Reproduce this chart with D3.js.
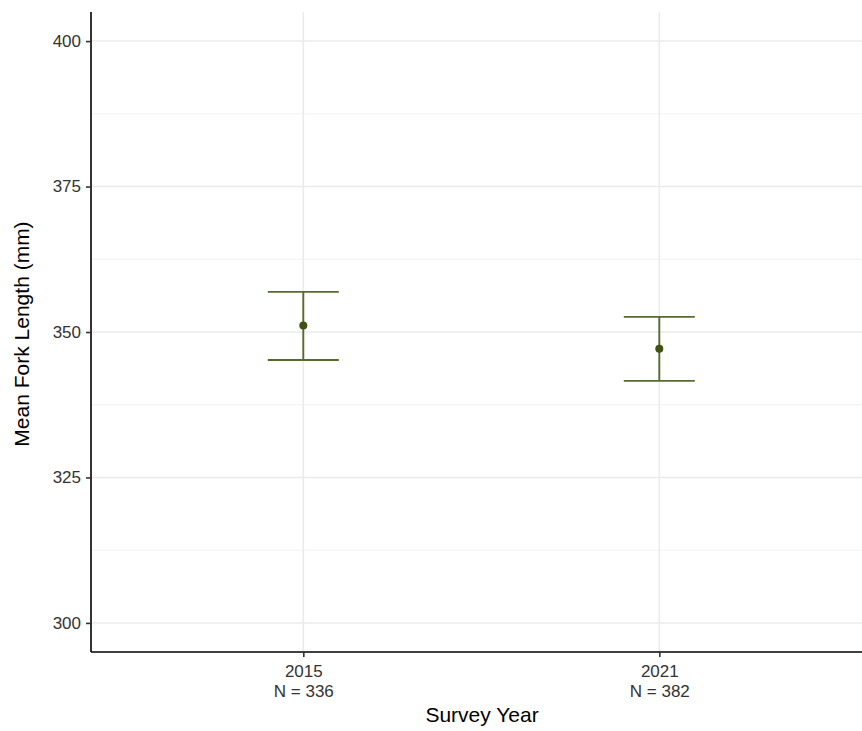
<!DOCTYPE html>
<html lang="en">
<head>
	<meta charset="UTF-8"/>
	<title>Mean Fork Length by Survey Year</title>
	<script src="https://d3js.org/d3.v7.min.js"></script>
	<style>
		body { margin: 0; background: #fff; }
		text { font-family: "Liberation Sans", Arial, sans-serif; }
	</style>
</head>
<body>
	<script>
		var w = 862;
		var h = 731;

		// data
		var years = ["2015", "2021"];
		var counts = [336, 382];
		var means = [351.1, 347.1];
		var lower = [345.2, 341.6];
		var upper = [356.9, 352.6];
		var yTicks = [300, 325, 350, 375, 400];
		var yMinor = [312.5, 337.5, 362.5, 387.5];

		var padLeft = 91, padTop = 12, padBottom = 652;
		var unit = 356;   // pixels between the two categories

		//Define scales
		var xScale = d3.scalePoint()
						.domain(years)
						.range([303.3, 303.3 + unit]);

		var yScale = d3.scaleLinear()
						.domain([295, 405])
						.range([padBottom, padTop]);

		var svg = d3.select("body")
					.append("svg")
					.attr("width", w)
					.attr("height", h);

		//grid lines
		svg.selectAll(".minor")
			.data(yMinor)
			.enter()
			.append("line")
			.attr("x1", padLeft).attr("x2", w)
			.attr("y1", function(d){ return yScale(d); })
			.attr("y2", function(d){ return yScale(d); })
			.attr("stroke", "#f2f2f2")
			.attr("stroke-width", 1);

		svg.selectAll(".major")
			.data(yTicks)
			.enter()
			.append("line")
			.attr("x1", padLeft).attr("x2", w)
			.attr("y1", function(d){ return yScale(d); })
			.attr("y2", function(d){ return yScale(d); })
			.attr("stroke", "#ebebeb")
			.attr("stroke-width", 1.5);

		svg.selectAll(".vgrid")
			.data(years)
			.enter()
			.append("line")
			.attr("x1", function(d){ return xScale(d); })
			.attr("x2", function(d){ return xScale(d); })
			.attr("y1", padTop).attr("y2", padBottom)
			.attr("stroke", "#ebebeb")
			.attr("stroke-width", 1.5);

		//error bars
		var colour = "#556b2f";
		var capHalf = 35.5;

		var bars = svg.selectAll(".err")
			.data(years)
			.enter()
			.append("g");

		bars.append("line")
			.attr("x1", function(d){ return xScale(d); })
			.attr("x2", function(d){ return xScale(d); })
			.attr("y1", function(d, i){ return yScale(upper[i]); })
			.attr("y2", function(d, i){ return yScale(lower[i]); })
			.attr("stroke", colour).attr("stroke-width", 1.9);

		bars.append("line")
			.attr("x1", function(d){ return xScale(d) - capHalf; })
			.attr("x2", function(d){ return xScale(d) + capHalf; })
			.attr("y1", function(d, i){ return yScale(upper[i]); })
			.attr("y2", function(d, i){ return yScale(upper[i]); })
			.attr("stroke", colour).attr("stroke-width", 1.9);

		bars.append("line")
			.attr("x1", function(d){ return xScale(d) - capHalf; })
			.attr("x2", function(d){ return xScale(d) + capHalf; })
			.attr("y1", function(d, i){ return yScale(lower[i]); })
			.attr("y2", function(d, i){ return yScale(lower[i]); })
			.attr("stroke", colour).attr("stroke-width", 1.9);

		bars.append("circle")
			.attr("cx", function(d){ return xScale(d); })
			.attr("cy", function(d, i){ return yScale(means[i]); })
			.attr("r", 4)
			.attr("fill", "#3f5214");

		//axes
		var xAxis = d3.axisBottom(xScale).tickSize(5).tickFormat("");
		var yAxis = d3.axisLeft(yScale).tickValues(yTicks).tickSize(5);

		var gx = svg.append("g")
			.attr("transform", "translate(0," + padBottom + ")")
			.call(xAxis);
		gx.select(".domain").attr("d", "M" + padLeft + ",0H" + w);

		gx.selectAll(".tick").each(function(d, i){
			var t = d3.select(this).append("text")
				.attr("fill", "#333")
				.attr("font-size", "17px")
				.attr("text-anchor", "middle")
				.attr("y", 25);
			t.append("tspan").attr("x", 0).text(d);
			t.append("tspan").attr("x", 0).attr("dy", 20).text("N = " + counts[i]);
		});

		var gy = svg.append("g")
			.attr("transform", "translate(" + padLeft + ",0)")
			.call(yAxis);
		gy.select(".domain").attr("d", "M0," + padTop + "V" + padBottom);
		gy.selectAll(".tick text")
			.attr("fill", "#333")
			.attr("font-size", "17px")
			.attr("x", -10);

		svg.selectAll(".domain, .tick line")
			.attr("stroke", "#000")
			.attr("stroke-width", 1.6);
		svg.selectAll(".tick line").attr("stroke", "#333");

		//axis titles
		svg.append("text")
			.attr("text-anchor", "middle")
			.attr("x", 482)
			.attr("y", 722)
			.attr("font-size", "21px")
			.text("Survey Year");

		svg.append("text")
			.attr("text-anchor", "middle")
			.attr("transform", "rotate(-90)")
			.attr("x", -334)
			.attr("y", 29)
			.attr("font-size", "21px")
			.text("Mean Fork Length (mm)");
	</script>
</body>
</html>
